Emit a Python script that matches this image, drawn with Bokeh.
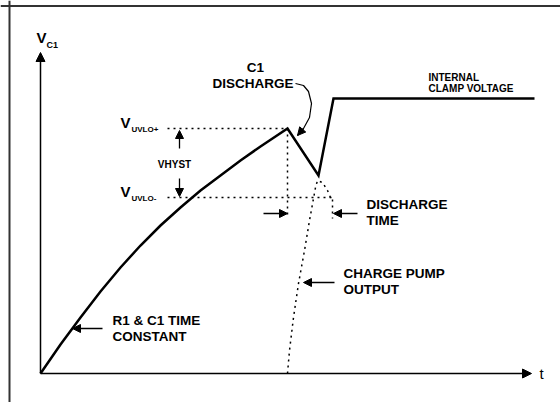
from bokeh.plotting import figure
from bokeh.models import Range1d, Arrow, NormalHead, Label, Span
from bokeh.embed import file_html
from bokeh.resources import INLINE

# ---- data (schematic units: t to the right of origin, V above the t axis) ----
# V_C1: RC charge, discharge after UVLO+, then clamp
t_vc1 = [0, 20, 40, 60, 80, 100, 120, 140, 160, 180, 200, 220, 247, 278, 293, 494]
v_vc1 = [0, 29, 56, 82, 106, 128, 148, 166, 183, 198, 213, 227, 245, 198, 275, 275]

# charge pump output (dotted)
t_cp = [247, 249, 253, 258, 264, 269, 273, 275, 277, 282, 287, 290, 292, 292]
v_cp = [0, 23, 56, 90, 123, 153, 175, 186, 193, 191, 183, 176, 176, 155]

# thresholds
v_uvlo_plus = 245
v_uvlo_minus = 176
t_level_start = 127
t_peak = 247
t_uvlo_minus_end = 292
t_peak_marker_end = 155

# axis extents
t_axis_end = 491
v_axis_end = 321

# C1 discharge pointer curve
t_c1 = [255, 263, 268, 271, 269, 263, 257]
v_c1 = [290, 288, 282, 270, 256, 245, 238]

FONT = "Liberation Sans"

p = figure(width=560, height=402, output_backend="svg", toolbar_location=None,
           x_axis_type=None, y_axis_type=None, min_border=0,
           x_range=Range1d(-40, 520), y_range=Range1d(-29, 373))
p.outline_line_color = None
p.grid.visible = False
p.background_fill_color = "white"
p.border_fill_color = "white"

# frame
p.add_layout(Span(location=-31, dimension="height", line_color="#333333", line_width=2))
p.add_layout(Span(location=367.5, dimension="width", line_color="#333333", line_width=2))

# axes with arrows
p.add_layout(Arrow(end=NormalHead(size=9, fill_color="black", line_color="black"),
                   x_start=0, y_start=0, x_end=0, y_end=v_axis_end,
                   line_width=1.5, line_color="black"))
p.add_layout(Arrow(end=NormalHead(size=9, fill_color="black", line_color="black"),
                   x_start=0, y_start=0, x_end=t_axis_end, y_end=0,
                   line_width=1.5, line_color="black"))

dot = dict(line_color="black", line_width=1.5, line_dash="2 4")
# dotted threshold levels
p.line([t_level_start, t_peak], [v_uvlo_plus, v_uvlo_plus], **dot)
p.line([t_level_start, t_uvlo_minus_end], [v_uvlo_minus, v_uvlo_minus], **dot)
p.line([t_peak, t_peak], [v_uvlo_plus, t_peak_marker_end], **dot)
# charge pump output
p.line(t_cp, v_cp, **dot)

# main V_C1 trace
p.line(t_vc1, v_vc1, line_color="black", line_width=2.5, line_join="miter")

# C1 discharge pointer
p.line(t_c1, v_c1, line_color="black", line_width=1.2)


def arrow(xs, ys, xe, ye, size=8):
    p.add_layout(Arrow(end=NormalHead(size=size, fill_color="black", line_color="black"),
                       x_start=xs, y_start=ys, x_end=xe, y_end=ye,
                       line_width=1.3, line_color="black"))


arrow(t_c1[-2], v_c1[-2], t_c1[-1], v_c1[-1], 8)
# hysteresis arrows
arrow(139, 225, 139, v_uvlo_plus - 2)
arrow(139, 195, 139, v_uvlo_minus + 1)
# discharge time arrows
arrow(223, 160, t_peak, 160)
arrow(317, 160, 293, 160)
# pointers
arrow(62, 45, 32, 45)
arrow(294, 91, 263, 91)


def label(x, y, text, size, align="left", style="bold"):
    p.add_layout(Label(x=x, y=y, text=text, text_font=FONT, text_font_size=size,
                       text_font_style=style, text_align=align, text_baseline="middle",
                       text_color="black"))


# V_C1 axis title
label(-4, 336, "V", "15px")
label(6, 329, "C1", "9px")
# thresholds
label(80, 251, "V", "15px")
label(91, 244, "UVLO+", "8px")
label(80, 182, "V", "15px")
label(91, 175, "UVLO-", "8px")
label(134, 209, "VHYST", "10px", align="center")
# annotations
label(215, 306, "C1", "13.5px", align="center")
label(212.5, 290, "DISCHARGE", "13.5px", align="center")
label(388, 296, "INTERNAL", "10px")
label(388, 285, "CLAMP VOLTAGE", "10px")
label(326, 169, "DISCHARGE", "13.5px")
label(326, 153, "TIME", "13.5px")
label(303, 100, "CHARGE PUMP", "13.5px")
label(303, 84, "OUTPUT", "13.5px")
label(72, 53.5, "R1 & C1 TIME", "13.5px")
label(72, 37.5, "CONSTANT", "13.5px")
label(499, 0, "t", "15px", style="normal")

open("out.html", "w").write(file_html(p, INLINE))
